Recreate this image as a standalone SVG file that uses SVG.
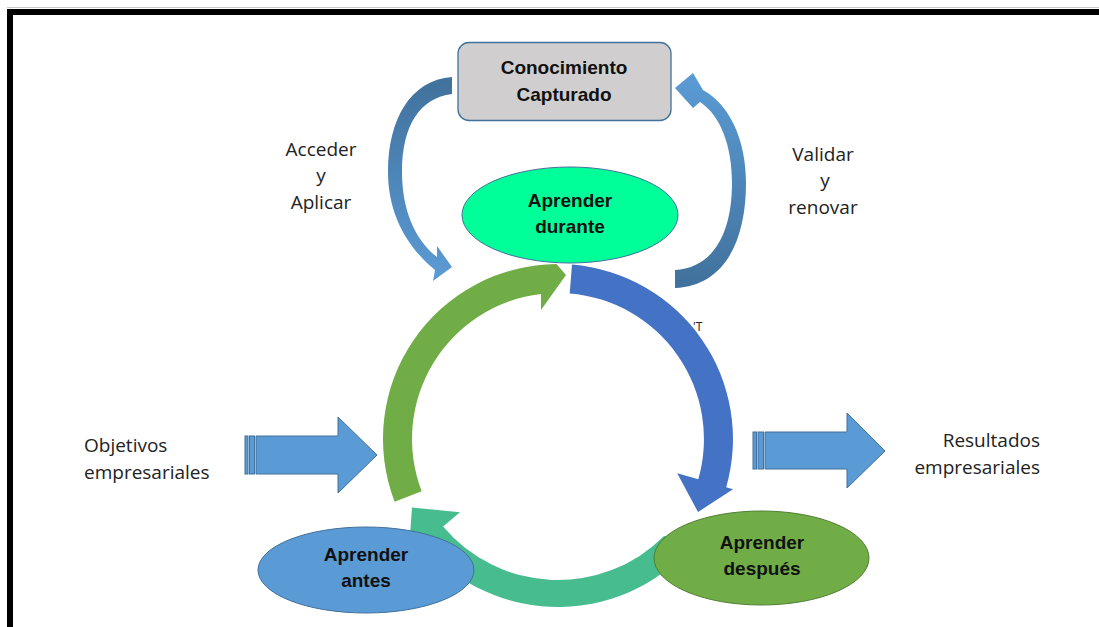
<svg xmlns="http://www.w3.org/2000/svg" width="1099" height="627" viewBox="0 0 1099 627">
<defs>
<linearGradient id="gL" x1="0" y1="0" x2="0" y2="1">
<stop offset="0" stop-color="#41719C"/><stop offset="1" stop-color="#5B9BD5"/>
</linearGradient>
<linearGradient id="gR" x1="0" y1="0" x2="0" y2="1">
<stop offset="0" stop-color="#5B9BD5"/><stop offset="1" stop-color="#41719C"/>
</linearGradient>
<style>
.lbl{font-family:"Open Sans","Liberation Sans",sans-serif;font-size:19px;fill:#222}
.nt{font-family:"Liberation Sans",Arial,sans-serif;font-size:19px;font-weight:bold;fill:#111;text-anchor:middle}
.blk{fill:#5B9BD5;stroke:#41719C;stroke-width:1}
</style>
</defs>
<rect x="0" y="0" width="1099" height="627" fill="#fff"/>
<g id="frame">
<line x1="7" y1="7.5" x2="1099" y2="7.5" stroke="#c8c8c8" stroke-width="1"/>
<rect x="7" y="9" width="1092" height="6" fill="#000"/>
<rect x="7" y="9" width="6" height="618" fill="#000"/>
</g>
<g id="connectors">
<path id="acceder" d="M452,77 C410,80 388,120 388,172 C388,215 408,248 435,270 L433,281 L452,267 L437,246 L437,257 C415,240 402,210 402,172 C402,125 420,98 452,94 Z" fill="url(#gL)"/>
<path id="validar" d="M675,288 C725,286 746,240 746,183 C746,140 730,105 703,90 L693,73 L675,88 L693,108 L700,102 C720,115 732,145 732,183 C732,235 712,268 675,270 Z" fill="url(#gR)"/>
<path id="teal" d="M697.5,539 A177,177 0 0 1 422.4,543.8 L408.6,555.3 L412,507.5 L460,512.3 L443.1,526.4 A150,150 0 0 0 664.1,536.1 Z" fill="#47BC8F"/>
<path id="green" d="M394.6,501.7 A175,175 0 0 1 556.5,264 L566,275 L541,310 L541,294 A146,146 0 0 0 421.7,491.3 Z" fill="#70AD47"/>
<path id="blue" d="M572,264.6 A175,175 0 0 1 726.2,487.2 L733,489.2 L698,512 L677.2,473.2 L698.3,479.2 A146,146 0 0 0 569.7,293.5 Z" fill="#4472C4"/>
<g id="in-arrow">
<rect class="blk" x="245" y="436" width="3" height="38"/>
<rect class="blk" x="249.5" y="436" width="5" height="38"/>
<path class="blk" d="M256,436 L338,436 L338,417 L377,455 L338,493 L338,474 L256,474 Z"/>
</g>
<g id="out-arrow">
<rect class="blk" x="753" y="432" width="3.5" height="37"/>
<rect class="blk" x="758" y="432" width="5.5" height="37"/>
<path class="blk" d="M765,432 L847,432 L847,413 L885,451 L847,488 L847,469 L765,469 Z"/>
</g>
<text class="lbl" x="693" y="331" style="font-size:12px">'T</text>
</g>
<g id="conocimiento">
<rect x="458" y="42.5" width="213" height="78" rx="11" fill="#D0CECE" stroke="#41719C" stroke-width="1.3"/>
<text class="nt" x="564" y="74">Conocimiento</text>
<text class="nt" x="564" y="101">Capturado</text>
</g>
<g id="durante">
<ellipse cx="570" cy="215" rx="108" ry="48" fill="#00FF99" stroke="#41719C" stroke-width="1"/>
<text class="nt" x="570" y="207">Aprender</text>
<text class="nt" x="570" y="233">durante</text>
</g>
<g id="antes">
<ellipse cx="366" cy="570" rx="108" ry="43" fill="#5B9BD5" stroke="#41719C" stroke-width="1"/>
<text class="nt" x="366" y="561">Aprender</text>
<text class="nt" x="366" y="587">antes</text>
</g>
<g id="despues">
<ellipse cx="761.5" cy="558" rx="107.5" ry="47" fill="#70AD47" stroke="#507E32" stroke-width="1"/>
<text class="nt" x="762" y="549">Aprender</text>
<text class="nt" x="762" y="575">después</text>
</g>
<g id="labels">
<text class="lbl" x="321" y="156" text-anchor="middle">Acceder</text>
<text class="lbl" x="321" y="182" text-anchor="middle">y</text>
<text class="lbl" x="321" y="209" text-anchor="middle">Aplicar</text>
<text class="lbl" x="823" y="161" text-anchor="middle">Validar</text>
<text class="lbl" x="825" y="187" text-anchor="middle">y</text>
<text class="lbl" x="823" y="214" text-anchor="middle">renovar</text>
<text class="lbl" x="84" y="452">Objetivos</text>
<text class="lbl" x="84" y="479">empresariales</text>
<text class="lbl" x="1040" y="447" text-anchor="end">Resultados</text>
<text class="lbl" x="1040" y="474" text-anchor="end">empresariales</text>
</g>
</svg>
